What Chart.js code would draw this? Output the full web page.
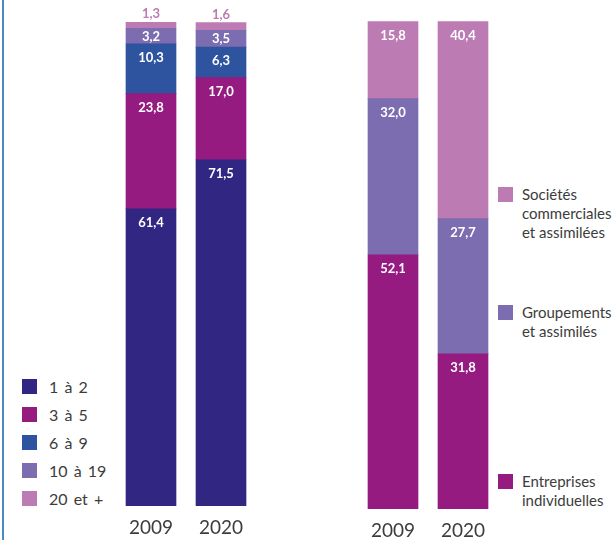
<!DOCTYPE html>
<html><head><meta charset="utf-8">
<script src="https://cdn.jsdelivr.net/npm/chart.js@4/dist/chart.umd.min.js"></script>
<style>
html,body{margin:0;padding:0;background:#fff;}
body{width:614px;height:540px;position:relative;overflow:hidden;font-family:Lato,"DejaVu Sans",sans-serif;}
#edge{position:absolute;left:2px;top:0;width:2px;height:540px;background:#4a8ac6;}
.cw{position:absolute;top:0;height:540px;}
.item{position:absolute;color:#3c3c3b;font-size:15px;line-height:19px;white-space:nowrap;}
#leg1 .item{font-size:16px;word-spacing:2px;}
.sw{position:absolute;width:15px;height:15px;}
</style></head><body>
<div id="edge"></div>
<div class="cw" style="left:116px;width:140px"><canvas id="c1" width="140" height="540"></canvas></div>
<div class="cw" style="left:358px;width:140px"><canvas id="c2" width="140" height="540"></canvas></div>
<div id="leg1"></div>
<div id="leg2"></div>
<script>
// ---- data ----
const years = ['2009', '2020'];
const sizeLabels = ['1 à 2', '3 à 5', '6 à 9', '10 à 19', '20 et +'];
const size1to2 = [61.4, 71.5];
const size3to5 = [23.8, 17.0];
const size6to9 = [10.3, 6.3];
const size10to19 = [3.2, 3.5];
const size20plus = [1.3, 1.6];
const sizeColors = ['#312783', '#951b81', '#2e539f', '#7b6db0', '#bc7bb3'];

const statusLabels = ['Entreprises\nindividuelles', 'Groupements\net assimilés', 'Sociétés\ncommerciales\net assimilées'];
const entreprisesIndividuelles = [52.1, 31.8];
const groupements = [32.0, 27.7];
const societes = [15.8, 40.4];
const statusColors = ['#951b81', '#7b6db0', '#bc7bb3'];

const fmt = v => v.toFixed(1).replace('.', ',');

const valueLabels = {
  id: 'valueLabels',
  afterDatasetsDraw(chart) {
    const ctx = chart.ctx;
    ctx.save();
    ctx.textAlign = 'center';
    ctx.textBaseline = 'middle';
    ctx.font = 'bold 13px Lato, "DejaVu Sans", sans-serif';
    chart.data.datasets.forEach((ds, di) => {
      const meta = chart.getDatasetMeta(di);
      meta.data.forEach((bar, i) => {
        const v = ds.data[i];
        const h = bar.base - bar.y;
        let y, col = '#ffffff';
        if (h >= 24) { y = bar.y + 14; }
        else if (h >= 12) { y = (bar.y + bar.base) / 2 + 0.5; }
        else { y = bar.y - 8; col = ds.backgroundColor; }
        ctx.fillStyle = col;
        ctx.fillText(fmt(v), bar.x, y);
      });
    });
    ctx.restore();
  }
};

function makeChart(id, labels, series, colors, top, axisH) {
  return new Chart(document.getElementById(id), {
    type: 'bar',
    data: {
      labels: years,
      datasets: series.map((d, k) => ({
        label: labels[k], data: d, backgroundColor: colors[k],
        borderWidth: 0, barThickness: 50
      }))
    },
    options: {
      responsive: false, animation: false,
      layout: { padding: { top: top, left: 0, right: 0, bottom: 0 } },
      plugins: { legend: { display: false }, tooltip: { enabled: false } },
      scales: {
        x: {
          stacked: true,
          grid: { display: false, drawTicks: false },
          border: { display: false },
          ticks: { color: '#3c3c3b', font: { family: 'Lato', size: 19 }, padding: 10 },
          afterFit: s => { s.height = axisH; }
        },
        y: { stacked: true, display: false, min: 0, max: 100 }
      }
    },
    plugins: [valueLabels]
  });
}

makeChart('c1', sizeLabels, [size1to2, size3to5, size6to9, size10to19, size20plus], sizeColors, 22, 34);
makeChart('c2', statusLabels, [entreprisesIndividuelles, groupements, societes], statusColors, 21, 31);

// ---- legends ----
const leg1 = document.getElementById('leg1');
const leg1Top = [379, 407, 435, 463, 491];
sizeLabels.forEach((t, k) => {
  const sw = document.createElement('div');
  sw.className = 'sw';
  sw.style.left = '22px'; sw.style.top = leg1Top[k] + 'px';
  sw.style.background = sizeColors[k];
  leg1.appendChild(sw);
  const tx = document.createElement('div');
  tx.className = 'item';
  tx.style.left = '49px'; tx.style.top = (leg1Top[k] - 2) + 'px';
  tx.textContent = t;
  leg1.appendChild(tx);
});
const leg2 = document.getElementById('leg2');
const leg2Top = [474, 305, 187];
statusLabels.forEach((t, k) => {
  const sw = document.createElement('div');
  sw.className = 'sw';
  sw.style.left = '498px'; sw.style.top = leg2Top[k] + 'px';
  sw.style.background = statusColors[k];
  leg2.appendChild(sw);
  const tx = document.createElement('div');
  tx.className = 'item';
  tx.style.left = '522px'; tx.style.top = (leg2Top[k] - 2) + 'px';
  tx.innerHTML = t.split('\n').join('<br>');
  leg2.appendChild(tx);
});
</script>
</body></html>
